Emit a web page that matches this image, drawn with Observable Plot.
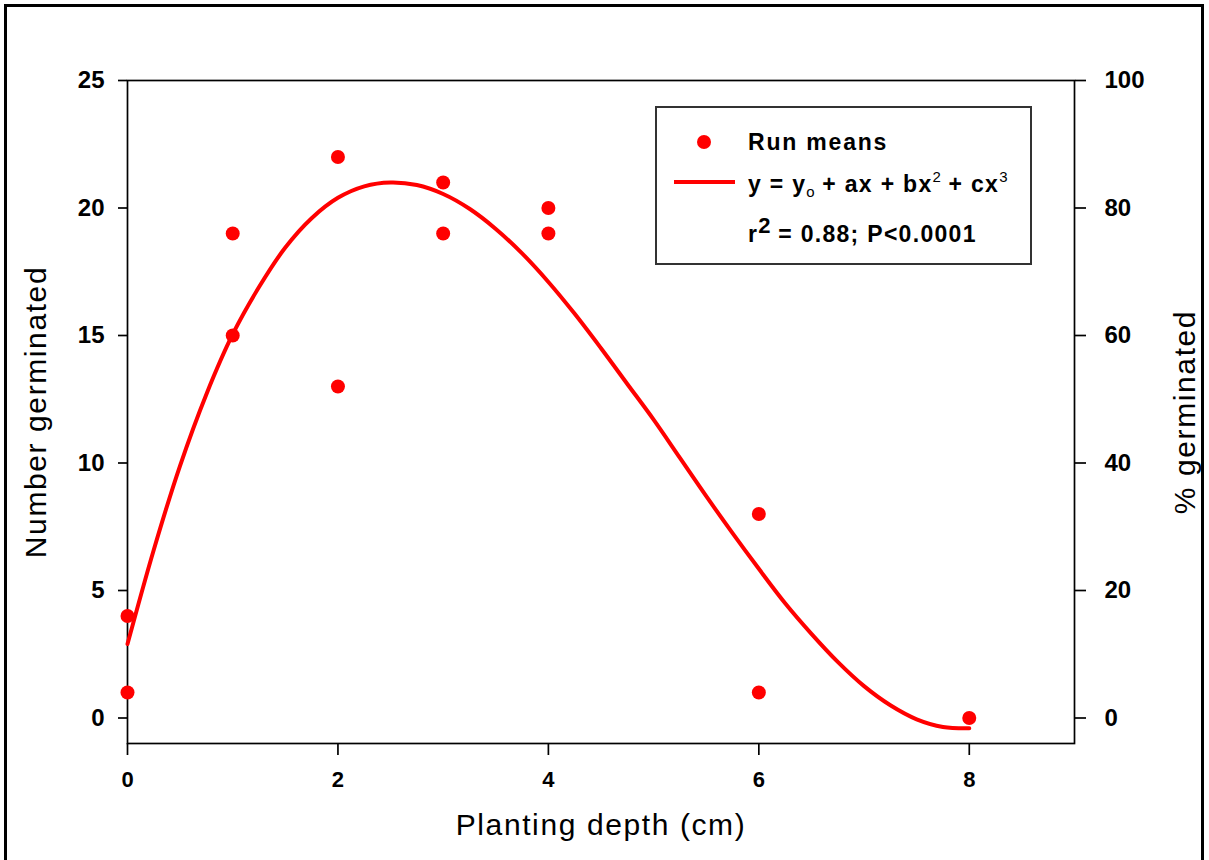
<!DOCTYPE html>
<html>
<head>
<meta charset="utf-8">
<script src="https://cdn.jsdelivr.net/npm/d3@7"></script>
<script src="https://cdn.jsdelivr.net/npm/@observablehq/plot@0.6"></script>
<style>
  body { margin: 0; background: #fff; }
  #wrap { position: relative; width: 1209px; height: 860px; overflow: hidden; font-family: "Liberation Sans", Arial, sans-serif; }
  #border { position: absolute; left: 4px; top: 4px; width: 1200px; height: 900px; border: 3px solid #000; box-sizing: border-box; }
  #chart { position: absolute; left: 0; top: 0; }
  #legend { position: absolute; left: 655px; top: 106px; width: 377px; height: 159px; border: 2px solid #333; box-sizing: border-box; background: #fff; }
  #legend .t { position: absolute; left: 91px; font-weight: bold; font-size: 23px; color: #000; white-space: nowrap; line-height: 1; letter-spacing: 1.3px; }
  #legend #l1 { letter-spacing: 1.8px; }
  #legend sub { font-size: 15px; vertical-align: -5px; font-weight: normal; letter-spacing: 0; }
  #legend sup { font-size: 15px; vertical-align: 10px; font-weight: normal; letter-spacing: 0; }
  #legend sup.big { font-size: 22px; vertical-align: 9px; font-weight: bold; }
  #legend svg { position: absolute; left: 0; top: 0; }
</style>
</head>
<body>
<div id="wrap">
  <div id="border"></div>
  <div id="chart"></div>
  <div id="legend">
    <svg width="377" height="159"></svg>
    <div class="t" id="l1" style="top:23px"></div>
    <div class="t" id="l2" style="top:61px">y = y<sub>o</sub> + ax + bx<sup>2</sup> + cx<sup>3</sup></div>
    <div class="t" id="l3" style="top:107px">r<sup class="big">2</sup> = 0.88; P&lt;0.0001</div>
  </div>
</div>
<script>
// Observed run means
const depth = [0, 0, 1, 1, 2, 2, 3, 3, 4, 4, 6, 6, 8];
const germinated = [4, 1, 19, 15, 22, 13, 21, 19, 20, 19, 8, 1, 0];

// Fitted cubic curve
const fitDepth = [0, 0.25, 0.5, 0.75, 1, 1.25, 1.5, 1.75, 2, 2.25, 2.5, 2.75, 3, 3.25, 3.5, 3.75, 4,
                  4.25, 4.5, 4.75, 5, 5.25, 5.5, 5.75, 6, 6.25, 6.5, 6.75, 7, 7.25, 7.5, 7.75, 8];
const fitValue = [2.9, 6.6, 9.9, 12.7, 15.05, 16.9, 18.45, 19.6, 20.4, 20.85, 21.0, 20.9, 20.55, 19.97, 19.18, 18.22, 17.1,
                  15.85, 14.5, 13.1, 11.7, 10.2, 8.7, 7.25, 5.85, 4.5, 3.3, 2.2, 1.25, 0.5, -0.05, -0.35, -0.4];

// Axes
const xTicks = [0, 2, 4, 6, 8];
const leftTicks = [0, 5, 10, 15, 20, 25];
const rightTicks = [0, 20, 40, 60, 80, 100];
const seedsPerRun = 25;

const legendLabels = ["Run means"];
const xTitle = ["Planting depth (cm)"];
const yTitle = ["Number germinated"];
const y2Title = ["% germinated"];

const points = depth.map((d, i) => ({depth: d, n: germinated[i]}));
const fit = fitDepth.map((d, i) => ({depth: d, n: fitValue[i]}));

const red = "#ff0000";

const chart = Plot.plot({
  width: 1209,
  height: 860,
  marginLeft: 127,
  marginRight: 135,
  marginTop: 80,
  marginBottom: 117,
  x: {domain: [0, 9]},
  y: {domain: [-1, 25]},
  style: {fontFamily: "Liberation Sans, Arial, sans-serif", background: "transparent", color: "#000"},
  marks: [
    Plot.frame({stroke: "#000", strokeWidth: 1.7}),
    Plot.axisX({ticks: xTicks, tickSize: 12, tickPadding: 16, fontSize: 22, fontWeight: "bold", label: null, strokeWidth: 1.7}),
    Plot.axisY({anchor: "left", ticks: leftTicks, tickSize: 9, tickPadding: 14, fontSize: 24, fontWeight: "bold", label: null, strokeWidth: 1.7}),
    Plot.axisY({anchor: "right", ticks: rightTicks.map(p => p * seedsPerRun / 100), tickFormat: d => Math.round(d * 100 / seedsPerRun), tickSize: 11, tickPadding: 19, fontSize: 24, fontWeight: "bold", label: null, strokeWidth: 1.7}),
    Plot.text(xTitle, {text: d => d, frameAnchor: "bottom", dy: 91, fontSize: 30}),
    Plot.text(yTitle, {text: d => d, frameAnchor: "left", textAnchor: "middle", dx: -91, rotate: -90, fontSize: 30}),
    Plot.text(y2Title, {text: d => d, frameAnchor: "right", textAnchor: "middle", dx: 111, rotate: -90, fontSize: 30}),
    Plot.line(fit, {x: "depth", y: "n", stroke: red, strokeWidth: 4, curve: "catmull-rom"}),
    Plot.dot(points, {x: "depth", y: "n", r: 7, fill: red, stroke: "none"})
  ]
});
d3.select(chart).selectAll('g[aria-label="text"] text').style("letter-spacing", "1.6px");
document.getElementById("chart").appendChild(chart);

// Legend
document.getElementById("l1").textContent = legendLabels[0];
const lg = d3.select("#legend svg");
lg.append("circle").attr("cx", 47).attr("cy", 34).attr("r", 7).attr("fill", red);
lg.append("line").attr("x1", 17).attr("x2", 78).attr("y1", 74).attr("y2", 74).attr("stroke", red).attr("stroke-width", 4);
</script>
</body>
</html>
